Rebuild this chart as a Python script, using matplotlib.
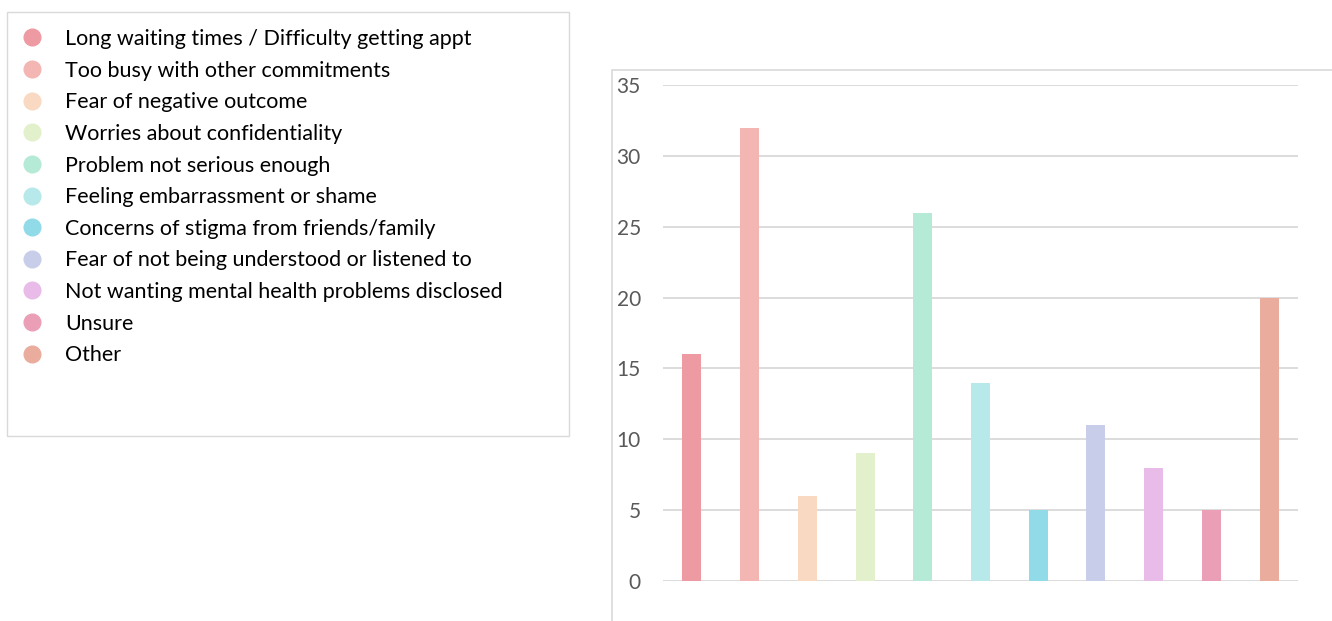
import matplotlib.pyplot as plt
from matplotlib.lines import Line2D
from matplotlib.patches import Rectangle

reasons = ['Long waiting times / Difficulty getting appt',
           'Too busy with other commitments',
           'Fear of negative outcome',
           'Worries about confidentiality',
           'Problem not serious enough',
           'Feeling embarrassment or shame',
           'Concerns of stigma from friends/family',
           'Fear of not being understood or listened to',
           'Not wanting mental health problems disclosed',
           'Unsure',
           'Other']
counts = [16, 32, 6, 9, 26, 14, 5, 11, 8, 5, 20]
colours = ['#EE9AA2', '#F4B6B3', '#F9D9C1', '#E2F0CB', '#B5EAD7', '#B7E9EA',
           '#91DAE8', '#C8CEE9', '#E9BBE8', '#EA9FB6', '#EAAD9D']

plt.rcParams['font.family'] = ['Lato', 'DejaVu Sans']

W, H = 1332, 621
fig = plt.figure(figsize=(W / 100, H / 100), dpi=100)

# outer frame of the chart area
fig.patches.append(Rectangle((612 / W, -0.1), 1.1, (H - 70) / H + 0.1,
                             transform=fig.transFigure, fill=False,
                             edgecolor='#d9d9d9', linewidth=1.2))
# frame around the key
fig.patches.append(Rectangle((7 / W, 1 - 436 / H), 562 / W, 424 / H,
                             transform=fig.transFigure, fill=False,
                             edgecolor='#d9d9d9', linewidth=1.0))

ax = fig.add_axes([663 / W, 1 - 581 / H, 635 / W, 496 / H])
x = range(len(counts))
ax.bar(x, counts, width=0.33, color=colours, zorder=2)
ax.set_xlim(-0.5, len(counts) - 0.5)
ax.set_ylim(0, 35)
ax.set_yticks(range(0, 36, 5))
ax.set_xticks([])
ax.yaxis.grid(True, color='#d9d9d9', linewidth=1.3, zorder=0)
for s in ax.spines.values():
    s.set_visible(False)
ax.tick_params(axis='y', length=0, pad=16, labelsize=15, labelcolor='#595959')
ax.set_facecolor('none')

handles = [Line2D([], [], marker='o', linestyle='none', markersize=12,
                  markerfacecolor=c, markeredgecolor=c) for c in colours]
fig.legend(handles, reasons, loc='upper left', bbox_to_anchor=(10 / W, 1 - 29 / H),
           frameon=False, fontsize=15.5, labelspacing=0.54, handletextpad=0.56,
           borderpad=0, borderaxespad=0)

fig.savefig('out.png', dpi=100)
